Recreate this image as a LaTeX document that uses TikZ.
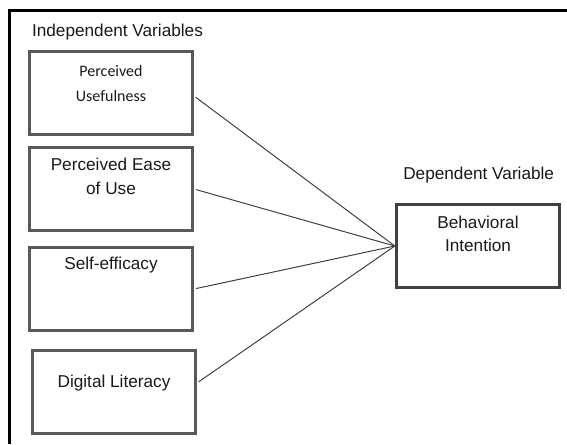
\documentclass[tikz,border=0pt]{standalone}
\usepackage{fontspec}
\setmainfont{Liberation Sans}
\newfontfamily\calibri{Carlito}
\usetikzlibrary{positioning}

\begin{document}
\begin{tikzpicture}[x=1pt, y=1pt,
        var/.style={draw=black!65, line width=2.6pt, minimum width=163.4pt, minimum height=83.4pt, inner sep=0pt},
        txt/.style={inner sep=0pt, align=center, text=black!90, font=\fontsize{17.2}{24}\selectfont},
        link/.style={draw=black!75, line width=1pt, shorten <=2pt}]
        \useasboundingbox (0,0) rectangle (567,-444);
        \draw[line width=2.6pt] (9.5,-444) -- (9.5,-10.5) -- (567,-10.5);

        \node[txt] (iv) at (117.5,-32.5) {Independent Variables};
        \node[txt] (dv) at (478.7,-175) {Dependent Variable};

        \node[var] (pu) at (111,-93) {};
        \node[var] (peou) [below=10pt of pu] {};
        \node[var] (se) [below=14pt of peou] {};
        \node[var, xshift=3pt] (dl) [below=17pt of se] {};
        \node[var, draw=black!75, line width=3pt] (bi) at (478,-246) {};

        \node[txt, font=\calibri\fontsize{16}{25}\selectfont] (put) [below=15pt of pu.north] {Perceived\\Usefulness};
        \node[txt] (peout) [below=12pt of peou.north] {Perceived Ease\\of Use};
        \node[txt] (set) [below=11pt of se.north] {Self-efficacy};
        \node[txt] (dlt) [below=26pt of dl.north] {Digital Literacy};
        \node[txt, font=\fontsize{17.2}{23}\selectfont] (bit) [below=13pt of bi.north] {Behavioral\\Intention};

        \draw[link] ([yshift=-3pt]pu.east) -- (bi.west);
        \draw[link] (peou.east) -- (bi.west);
        \draw[link] (se.east) -- (bi.west);
        \draw[link] ([yshift=9pt]dl.east) -- (bi.west);
    \end{tikzpicture}
\end{document}
